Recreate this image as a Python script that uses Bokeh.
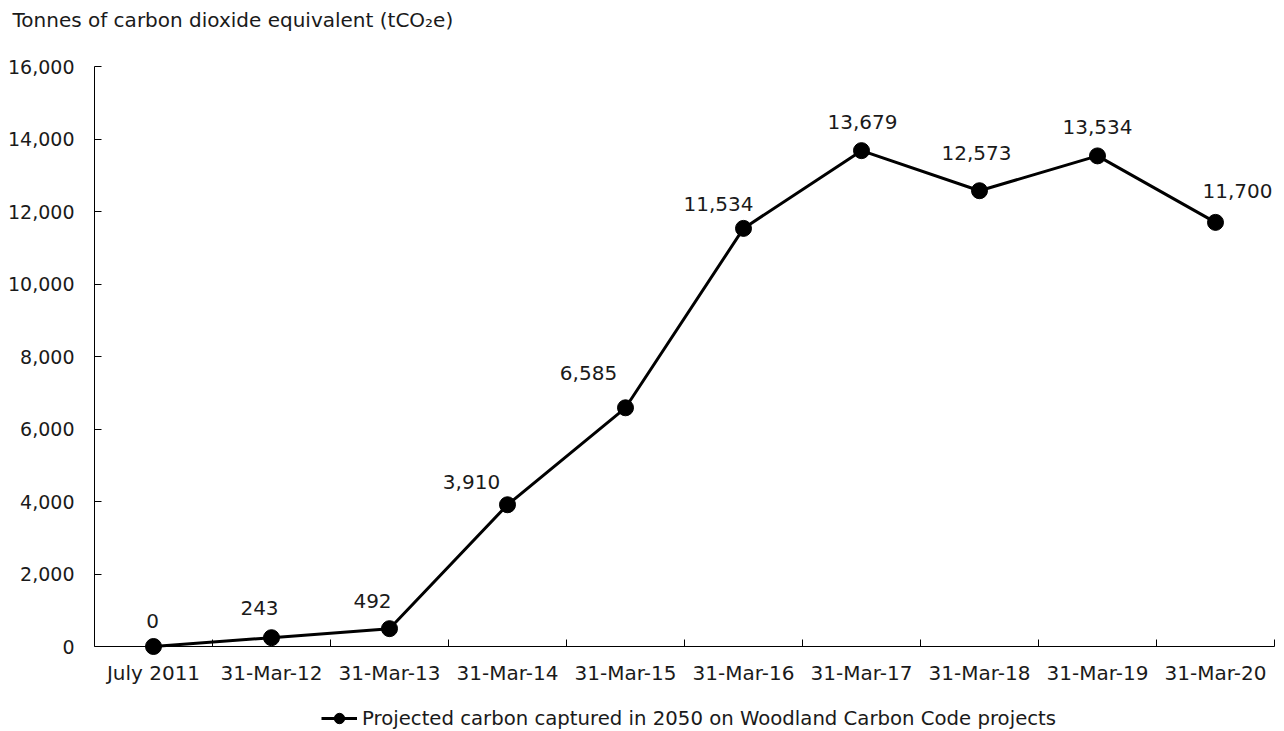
from bokeh.plotting import figure
from bokeh.models import (ColumnDataSource, Range1d, FixedTicker, NumeralTickFormatter,
                          Label, LabelSet, Legend, LegendItem)
from bokeh.core.properties import value
from bokeh.embed import file_html
from bokeh.resources import INLINE

# ---- data ----
categories = ["July 2011", "31-Mar-12", "31-Mar-13", "31-Mar-14", "31-Mar-15",
              "31-Mar-16", "31-Mar-17", "31-Mar-18", "31-Mar-19", "31-Mar-20"]
carbon = [0, 243, 492, 3910, 6585, 11534, 13679, 12573, 13534, 11700]
y_ticks = [0, 2000, 4000, 6000, 8000, 10000, 12000, 14000, 16000]
series_name = "Projected carbon captured in 2050 on Woodland Carbon Code projects"
title_text = "Tonnes of carbon dioxide equivalent (tCO\u2082e)"

# label nudges (screen px) for the data labels
label_dx = [-1, -12, -17, -36, -37, -25, 1, -3, 0, 22]
label_dy = [26, 30, 28, 23, 35, 24, 29, 38, 29, 31]

FONT = "DejaVu Sans"
TXT = "#1a1a1a"

# ---- layout (pixels): the frame covers the whole canvas, axes sit at fixed locations
W, H = 1280, 730
AX_L, AX_R, AX_T, AX_B = 94, 1274, 66, 646      # plotting area of the axes
n = len(categories)
YMAX = y_ticks[-1]
px_x = (AX_R - AX_L) / n
px_y = (AX_B - AX_T) / YMAX
x_range = Range1d(-AX_L / px_x, n + (W - AX_R) / px_x)
y_range = Range1d(-(H - AX_B) / px_y, YMAX + AX_T / px_y)

xpos = [i + 0.5 for i in range(n)]
src = ColumnDataSource(dict(
    x=xpos, y=carbon,
    lab=[f"{v:,}" for v in carbon],
    dx=label_dx, dy=label_dy,
))

p = figure(width=W, height=H, output_backend="svg", toolbar_location=None,
           x_range=x_range, y_range=y_range,
           min_border_left=0, min_border_right=0, min_border_top=0, min_border_bottom=0)
p.outline_line_color = None
p.xgrid.visible = False
p.ygrid.visible = False
p.background_fill_color = "white"
p.border_fill_color = "white"

r_line = p.line("x", "y", source=src, line_color="black", line_width=3)
r_pts = p.scatter("x", "y", source=src, size=16, fill_color="black", line_color="black")

# x axis: labels at category centres, tick marks between categories
xa = p.xaxis[0]
xa.fixed_location = 0
xa.bounds = (0, n)
xa.ticker = FixedTicker(ticks=xpos, minor_ticks=list(range(1, n + 1)))
xa.major_label_overrides = {x: c for x, c in zip(xpos, categories)}
xa.major_tick_line_color = None
xa.major_tick_in = 0
xa.major_tick_out = 0
xa.minor_tick_in = 7
xa.minor_tick_out = 0
xa.minor_tick_line_color = "black"
xa.axis_line_color = "black"
xa.major_label_text_font = FONT
xa.major_label_text_font_size = "20px"
xa.major_label_text_color = TXT
xa.major_label_standoff = 14

ya = p.yaxis[0]
ya.fixed_location = 0
ya.bounds = (0, YMAX)
ya.ticker = FixedTicker(ticks=y_ticks)
ya.formatter = NumeralTickFormatter(format="0,0")
ya.major_tick_in = 7
ya.major_tick_out = 0
ya.minor_tick_line_color = None
ya.major_tick_line_color = "black"
ya.axis_line_color = "black"
ya.major_label_text_font = FONT
ya.major_label_text_font_size = "19px"
ya.major_label_text_color = TXT
ya.major_label_standoff = 20

labels = LabelSet(x="x", y="y", text="lab", source=src, x_offset="dx", y_offset="dy",
                  text_align="center", text_baseline="middle",
                  text_font=value(FONT), text_font_size=value("20px"),
                  text_color=value(TXT))
p.add_layout(labels)

# title at the top-left
p.add_layout(Label(x=12, y=H - 19, x_units="screen", y_units="screen",
                   text=title_text, text_font=FONT, text_font_size="20px",
                   text_color=TXT, text_baseline="alphabetic", text_align="left"))

# legend along the bottom edge
legend = Legend(items=[LegendItem(label=series_name, renderers=[r_line, r_pts])],
                location=(321, -1), orientation="horizontal",
                label_text_font=FONT, label_text_font_size="19.7px", label_text_color=TXT,
                glyph_width=36, glyph_height=26, label_standoff=5,
                border_line_color=None, background_fill_alpha=0,
                margin=0, padding=0)
p.add_layout(legend)

open("out.html", "w").write(file_html(p, INLINE))
